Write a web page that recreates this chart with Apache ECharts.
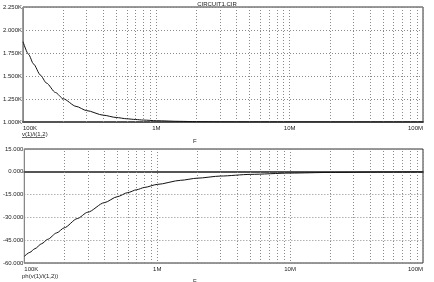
<!DOCTYPE html>
<html><head><meta charset="utf-8">
<script src="https://cdn.jsdelivr.net/npm/echarts@6/dist/echarts.min.js"></script>
<style>html,body{margin:0;padding:0;background:#fff}#c{width:434px;height:282px}</style>
</head><body><div id="c"></div>
<script>
// Frequencies (Hz)
const freqs = [1e5, 1.1e5, 1.2e5, 1.35e5, 1.5e5, 1.75e5, 2e5, 2.5e5, 3e5, 4e5, 5e5, 6e5, 7e5, 8e5, 1e6, 1.5e6, 2e6, 3e6, 5e6, 1e7, 2e7, 5e7, 1e8];
// |v(1)/i(1,2)| in K (kOhm)
const magK = [1.873, 1.736, 1.630, 1.510, 1.423, 1.321, 1.253, 1.170, 1.124, 1.074, 1.049, 1.035, 1.027, 1.021, 1.014, 1.007, 1.004, 1.002, 1.001, 1.0003, 1.0, 1.0, 1.0];
// ph(v(1)/i(1,2)) in degrees
const phaseDeg = [-55.6, -53.0, -50.6, -47.3, -44.4, -40.2, -36.8, -30.8, -26.6, -20.3, -16.4, -13.7, -11.8, -10.3, -8.3, -5.6, -4.2, -2.8, -1.7, -0.84, -0.42, -0.17, -0.08];
// Tick labels
const xTickLabels = {1e5: '100K', 1e6: '1M', 1e7: '10M', 1e8: '100M'};
const minorFreqs = [];
[1e5, 1e6, 1e7].forEach(d => { for (let k = 2; k <= 9; k++) minorFreqs.push(k * d); });

const FONT = 'Liberation Sans';
const gridLine = {type: [1, 2], color: '#8a8a8a', width: 1};

function xAxis(gi) {
  return {
    type: 'log', logBase: 10, min: 1e5, max: 1e8, gridIndex: gi,
    axisLine: {show: true, lineStyle: {color: '#555', width: 2}},
    axisTick: {show: false},
    axisLabel: {fontSize: 6, fontFamily: FONT, color: '#222', margin: 3,
      alignMinLabel: 'left', alignMaxLabel: 'right',
      formatter: v => xTickLabels[Math.round(v)] || ''},
    splitLine: {show: true, lineStyle: gridLine}
  };
}
function yAxis(gi, min, max, interval, fmt) {
  return {
    type: 'value', gridIndex: gi, min: min, max: max, interval: interval,
    axisLine: {show: true, lineStyle: {color: '#888', width: 1}},
    axisTick: {show: false},
    axisLabel: {fontSize: 6, fontFamily: FONT, color: '#222', margin: 1, formatter: fmt},
    splitLine: {show: true, lineStyle: gridLine}
  };
}
const minorMark = {
  silent: true, symbol: 'none', animation: false,
  label: {show: false},
  lineStyle: gridLine,
  data: minorFreqs.map(f => ({xAxis: f}))
};

const chart = echarts.init(document.getElementById('c'), null, {renderer: 'canvas'});
chart.setOption({
  animation: false,
  backgroundColor: '#fff',
  grid: [
    {left: 22, top: 7, width: 401, height: 115, show: true, borderColor: '#333', borderWidth: 1, backgroundColor: 'transparent'},
    {left: 22, top: 149, width: 401, height: 114, show: true, borderColor: '#333', borderWidth: 1, backgroundColor: 'transparent'}
  ],
  xAxis: [xAxis(0), xAxis(1)],
  yAxis: [
    yAxis(0, 1.0, 2.25, 0.25, v => v.toFixed(3) + 'K'),
    yAxis(1, -60, 15, 15, v => v.toFixed(3))
  ],
  series: [
    {type: 'line', xAxisIndex: 0, yAxisIndex: 0, showSymbol: false, symbol: 'none', smooth: 0.25, smoothMonotone: 'x',
     lineStyle: {color: '#111', width: 1}, data: freqs.map((f, i) => [f, magK[i]]), markLine: minorMark, z: 5},
    {type: 'line', xAxisIndex: 1, yAxisIndex: 1, showSymbol: false, symbol: 'none', smooth: 0.25, smoothMonotone: 'x',
     lineStyle: {color: '#111', width: 1}, data: freqs.map((f, i) => [f, phaseDeg[i]]), markLine: minorMark, z: 5}
  ],
  graphic: [
    {type: 'text', left: 'center', top: 1, style: {text: 'CIRCUIT1.CIR', font: '6px ' + FONT, fill: '#222'}},
    {type: 'text', left: 22, top: 131, style: {text: 'v(1)/i(1,2)', font: '6px ' + FONT, fill: '#222'}},
    {type: 'line', shape: {x1: 22, y1: 137.5, x2: 45, y2: 137.5}, style: {stroke: '#444', lineWidth: 0.8}},
    {type: 'text', left: 193, top: 138, style: {text: 'F', font: '6px ' + FONT, fill: '#222'}},
    {type: 'text', left: 22, top: 273, style: {text: 'ph(v(1)/i(1,2))', font: '6px ' + FONT, fill: '#222'}},
    {type: 'text', left: 193, top: 278, style: {text: 'F', font: '6px ' + FONT, fill: '#222'}}
  ]
});
</script></body></html>
